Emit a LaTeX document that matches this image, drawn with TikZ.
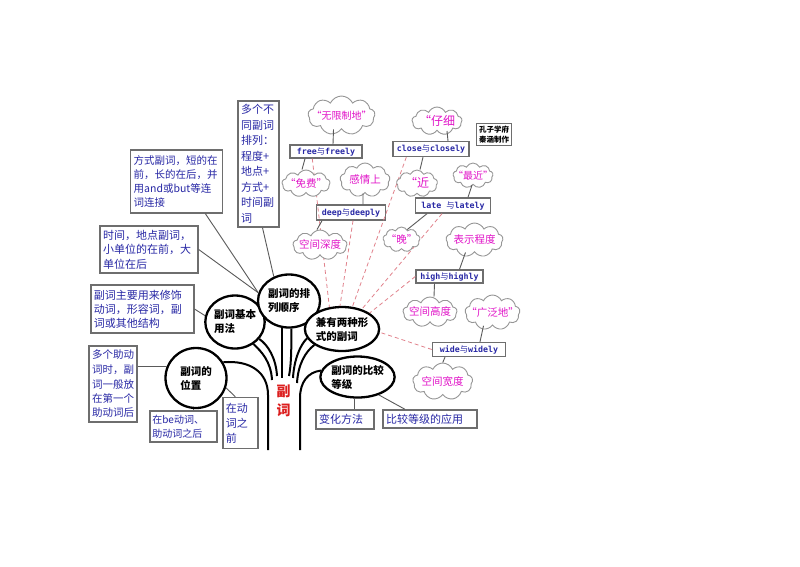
\documentclass[tikz,border=0pt]{standalone}
\usepackage{fontspec}
\setmainfont{Noto Sans CJK SC}
\newfontfamily\monof{DejaVu Sans Mono}
\usetikzlibrary{shapes.geometric,shapes.symbols}
\definecolor{boxblue}{RGB}{40,40,165}
\definecolor{pinkt}{RGB}{225,20,200}
\definecolor{cloudgray}{RGB}{150,150,150}
\definecolor{boxgray}{RGB}{110,110,110}
\definecolor{linkgray}{RGB}{90,90,90}
\definecolor{dashpink}{RGB}{225,130,140}
\definecolor{redt}{RGB}{220,30,30}
\newcommand\wpair[2]{{\monof\bfseries #1}与{\monof\bfseries #2}}
\newcommand\ctext[1]{\raisebox{-0.36em}[0pt][0pt]{\makebox[0pt]{#1}}}
\tikzset{
  tbox/.style={rectangle, draw=boxgray, line width=1.4pt, fill=white, inner sep=3pt, align=left, text=boxblue, font=\fontsize{10.5}{14.5}\selectfont},
  wbox/.style={rectangle, draw=boxgray, line width=1.4pt, fill=white, inner sep=1.5pt, text=boxblue, font=\fontsize{8.3}{9}\selectfont},
  cloudn/.style={cloud, cloud puffs=9, cloud puff arc=130, cloud ignores aspect, draw=cloudgray, line width=0.9pt, fill=white, inner sep=0pt, text=pinkt, font=\fontsize{10.5}{12}\selectfont},
  bub/.style={ellipse, draw=black, line width=2.3pt, fill=white, inner sep=0pt, align=left, font=\fontsize{10.5}{14}\selectfont\bfseries},
  link/.style={draw=linkgray, line width=0.9pt},
  dlink/.style={draw=dashpink, line width=0.8pt, dash pattern=on 4pt off 3pt},
  trunk/.style={draw=black, line width=2pt}
}
\begin{document}
\begin{tikzpicture}[x=1pt,y=-1pt]
\useasboundingbox[fill=white] (0,0) rectangle (800,566);

\coordinate (t1) at (268,450);
\coordinate (t2) at (300,450);

% ellipses
\node[bub, minimum width=61, minimum height=60] (e1) at (196,378) {副词的\\位置};
\node[bub, minimum width=56, minimum height=53] (e2) at (235,322) {副词基本\\用法};
\node[bub, minimum width=62, minimum height=53] (e3) at (289,301) {副词的排\\列顺序};
\node[bub, minimum width=68, minimum height=44] (e4) at (342,329) {兼有两种形\\式的副词};
\node[bub, minimum width=71, minimum height=41] (e5) at (357.5,377) {副词的比较\\等级};

\draw[trunk] (e1.30) .. controls (250,360) and (268,372) .. (268,395) -- (t1);
\draw[trunk] (e2.-50) .. controls (262,352) and (271,362) .. (272,380);
\draw[trunk] (e2.-35) .. controls (268,345) and (276,358) .. (277,376);
\draw[trunk] (e3.-105) -- (e3.-105 |- 0,378);
\draw[trunk] (e3.-85) .. controls (e3.-85 |- 0,355) and (291,365) .. (289,376);
\draw[trunk] (e4.-165) .. controls (300,345) and (294,360) .. (293,378);
\draw[trunk] (e4.-150) .. controls (305,352) and (298,365) .. (297,383);
\draw[trunk] (e5.170) .. controls (308,372) and (300,382) .. (300,398) -- (t2);

\node[text=redt, align=center, font=\fontsize{14}{19}\selectfont\bfseries] (trunkname) at (283.5,401) {副\\词};

% left boxes
\node[tbox, minimum width=41, minimum height=126, text width=35, font=\fontsize{11}{15.5}\selectfont] (b1) at (258.5,164) {多个不\\同副词\\排列：\\程度+\\地点+\\方式+\\时间副\\词};
\node[tbox, minimum width=92, minimum height=63, text width=86, font=\fontsize{10.5}{14}\selectfont] (b2) at (176.7,181.5) {方式副词，短的在\\前，长的在后，并\\用and或but等连\\词连接};
\node[tbox, minimum width=98, minimum height=47, text width=92, font=\fontsize{11}{14.5}\selectfont] (b3) at (149,249.5) {时间，地点副词，\\小单位的在前，大\\单位在后};
\node[tbox, minimum width=103, minimum height=48, text width=97, font=\fontsize{11}{14}\selectfont] (b4) at (142.3,309) {副词主要用来修饰\\动词，形容词，副\\词或其他结构};
\node[tbox, minimum width=48, minimum height=76, text width=42, font=\fontsize{10.5}{14.5}\selectfont] (b5) at (113,384) {多个助动\\词时，副\\词一般放\\在第一个\\助动词后};
\node[tbox, minimum width=67, minimum height=31, text width=62, inner sep=2.5pt, font=\fontsize{10}{14}\selectfont] (b6) at (183.3,426.3) {在be动词、\\助动词之后};
\node[tbox, minimum width=35, minimum height=51, text width=29, font=\fontsize{11}{15}\selectfont] (b7) at (240.3,423) {在动\\词之\\前};
\node[tbox, minimum width=58, minimum height=19, text width=52, inner sep=1pt, font=\fontsize{11}{13}\selectfont] (bh) at (345,419.5) {变化方法};
\node[tbox, minimum width=94, minimum height=18, text width=88, inner sep=1pt, font=\fontsize{11}{13}\selectfont] (bo) at (430,419) {比较等级的应用};

\draw[link] ([xshift=-18]b2.south east) -- (e3.165);
\draw[link] ([xshift=4]b1.south) -- (e3.122);
\draw[link] (b3.east) -- (e3.165);
\draw[link] (b4.east) -- (e2.168);
\draw[link] (b5.east |- e1.158) -- (e1.158);
\draw[link] (e1.-95) -- (e1.-95 |- b6.north);
\draw[link] (e1.-18) -- ([xshift=-5]b7.north);
\draw[link] (e5.-97) -- (e5.-97 |- bh.north);
\draw[link] (e5.-40) -- ([xshift=-25]bo.north);

% word boxes
\node[wbox, minimum width=72, minimum height=13] (fr) at (326,151.5) {\wpair{free}{freely}};
\node[wbox, minimum width=69, minimum height=15] (dp) at (351,212.5) {\wpair{deep}{deeply}};
\node[wbox, minimum width=76, minimum height=15] (cl) at (431,149) {\wpair{close}{closely}};
\node[wbox, minimum width=75, minimum height=15] (lt) at (453,205.5) {\wpair{late }{lately}};
\node[wbox, minimum width=67, minimum height=13] (hi) at (449.5,276.5) {\wpair{high}{highly}};
\node[wbox, minimum width=73, minimum height=14] (wd) at (469,349.5) {\wpair{wide}{widely}};

% credits
\node[rectangle, draw=boxgray, line width=1pt, inner sep=2.5pt, align=center, font=\fontsize{7.5}{9.5}\selectfont\bfseries] (cr) at (494,134.5) {孔子学府\\秦涵制作};

% dashed links
\draw[dlink] ([xshift=23]fr.south west) -- (e4.120);
\draw[dlink] ([xshift=2]dp.south) -- (e4.95);
\draw[dlink] ([xshift=14]cl.south west) -- (e4.65);
\draw[dlink] ([xshift=-11]lt.south) -- (e4.45);
\draw[dlink] (hi.west) -- (e4.30);
\draw[dlink] (wd.west) -- (e4.-5);

% clouds
\node[cloudn, minimum width=67, minimum height=39, font=\fontsize{10}{12}\selectfont] (c1) at (341.5,115.5) {\ctext{“无限制地”}};
\node[cloudn, minimum width=48, minimum height=27] (c2) at (306,183.5) {\ctext{“免费”}};
\node[cloudn, minimum width=50, minimum height=34] (c3) at (365,180) {\ctext{感情上}};
\node[cloudn, minimum width=54, minimum height=30] (c4) at (320,245) {\ctext{空间深度}};
\node[cloudn, minimum width=50, minimum height=28, font=\fontsize{12}{13}\selectfont] (c5) at (437,121) {\ctext{“仔细}};
\node[cloudn, minimum width=41, minimum height=27, font=\fontsize{12}{13}\selectfont] (c6) at (417,183.5) {\ctext{“近}};
\node[cloudn, minimum width=40, minimum height=25, font=\fontsize{10}{12}\selectfont] (c7) at (473,175.5) {\ctext{“最近”}};
\node[cloudn, minimum width=37, minimum height=25] (c8) at (401.5,239.5) {\ctext{“晚”}};
\node[cloudn, minimum width=57, minimum height=34] (c9) at (474.5,240) {\ctext{表示程度}};
\node[cloudn, minimum width=54, minimum height=30] (c10) at (430,312) {\ctext{空间高度}};
\node[cloudn, minimum width=55, minimum height=35] (c11) at (492.5,312.5) {\ctext{“广泛地”}};
\node[cloudn, minimum width=60, minimum height=37] (c12) at (442.7,381.5) {\ctext{空间宽度}};

\draw[link] ([xshift=-8]c1.south) -- ([xshift=7]fr.north);
\draw[link] ([xshift=-21]fr.south) -- ([xshift=-4]c2.north);
\draw[link] ([xshift=-2]c3.south) -- ([xshift=12]dp.north);
\draw[link] ([xshift=-29]dp.south) -- ([xshift=-3]c4.north);
\draw[link] ([xshift=10]c5.south) -- ([xshift=17]cl.north);
\draw[link] ([xshift=-8]cl.south) -- ([xshift=3]c6.north);
\draw[link] ([xshift=-1]c7.south) -- ([xshift=15]lt.north);
\draw[link] ([xshift=-26]lt.south) -- (c8.60);
\draw[link] ([xshift=-9]c9.south) -- ([xshift=10]hi.north);
\draw[link] ([xshift=-15]hi.south) -- ([xshift=4]c10.north);
\draw[link] ([xshift=-9]c11.south) -- ([xshift=11]wd.north);
\draw[link] ([xshift=-24]wd.south) -- (c12.north);
\end{tikzpicture}
\end{document}
